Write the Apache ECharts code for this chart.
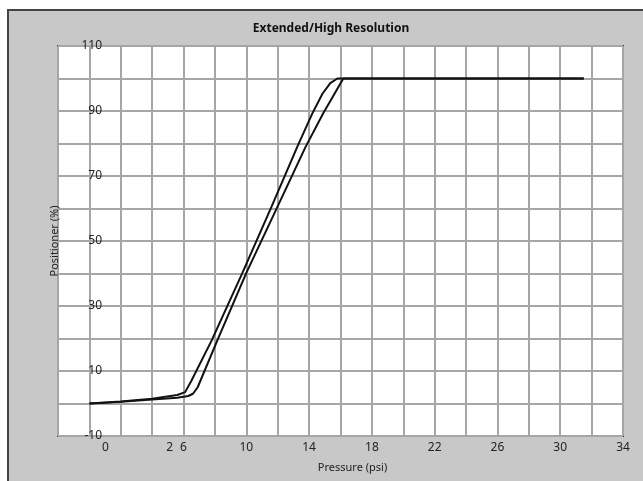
<!DOCTYPE html>
<html>
<head>
<meta charset="utf-8">
<script src="https://cdn.jsdelivr.net/npm/echarts@6/dist/echarts.min.js"></script>
<style>
html,body{margin:0;padding:0;background:#fff;}
#chart{width:643px;height:481px;}
</style>
</head>
<body>
<div id="chart"></div>
<script>
// Left branch of the hysteresis loop (pressure psi, position %)
const leftPressure = [0, 2, 4, 5.6, 6.1, 6.5, 7.8, 9.75, 11.6, 13.3, 14.2, 14.85, 15.35, 15.8, 31.5];
const leftPosition = [0, 0.6, 1.5, 2.6, 3.5, 7.0, 19.5, 40.2, 60.5, 79.6, 89.2, 95.3, 98.6, 100, 100];
// Right branch of the hysteresis loop
const rightPressure = [0, 2, 4, 5.6, 6.3, 6.6, 6.9, 8.16, 10.0, 11.98, 13.76, 14.9, 16.18, 31.5];
const rightPosition = [0, 0.5, 1.2, 1.8, 2.3, 3.0, 5.0, 19.5, 40.2, 60.5, 78.8, 89.3, 100, 100];
// Tick labels
const xTickLabels = {0: '0', 2: '2', 6: '6', 10: '10', 14: '14', 18: '18', 22: '22', 26: '26', 30: '30', 34: '34'};
const yTickLabels = [110, 90, 70, 50, 30, 10, -10];

const chart = echarts.init(document.getElementById('chart'), null, {renderer: 'canvas'});
const pair = (xs, ys) => xs.map((x, i) => [x, ys[i]]);

chart.setOption({
  animation: false,
  textStyle: {fontFamily: 'Noto Sans'},
  graphic: [{
    type: 'rect', z: -10, silent: true,
    shape: {x: 8, y: 10, width: 700, height: 600},
    style: {fill: '#c8c8c8', stroke: '#444', lineWidth: 2}
  }],
  title: {
    text: 'Extended/High Resolution',
    left: 331, top: 23, textAlign: 'center', padding: 0,
    textStyle: {fontFamily: 'Noto Sans', fontSize: 12, fontWeight: 'bold', color: '#111'}
  },
  grid: {
    left: 58, top: 46, right: 20, bottom: 45,
    show: true, backgroundColor: '#fff', borderColor: '#333', borderWidth: 2
  },
  xAxis: {
    type: 'value', min: -2, max: 34, interval: 2,
    name: 'Pressure (psi)', nameLocation: 'middle', nameGap: 26,
    nameTextStyle: {fontSize: 11, color: '#222', padding: [0, 0, 0, 24]},
    axisLine: {show: false}, axisTick: {show: false},
    splitLine: {show: true, lineStyle: {color: '#a6a6a6', width: 2}},
    axisLabel: {
      margin: 6, fontSize: 12, color: '#222',
      formatter: v => {
        const t = xTickLabels[v];
        if (t === undefined) return '';
        if (v === 0) return '{z|' + t + '}';
        if (v === 2) return '{t|' + t + '}';
        return t;
      },
      rich: {
        z: {fontSize: 12, color: '#222', padding: [0, 0, 0, 32]},
        t: {fontSize: 12, color: '#222', padding: [0, 0, 0, 98]}
      }
    }
  },
  yAxis: {
    type: 'value', min: -10, max: 110, interval: 10,
    name: 'Positioner (%)', nameLocation: 'middle', nameRotate: 90, nameGap: -2,
    nameTextStyle: {fontSize: 11, color: '#222'},
    axisLine: {show: false}, axisTick: {show: false},
    splitLine: {show: true, lineStyle: {color: '#a6a6a6', width: 2}},
    axisLabel: {
      margin: -44, fontSize: 12, color: '#222',
      formatter: v => (yTickLabels.indexOf(v) >= 0 ? String(v) : '')
    }
  },
  series: [
    {type: 'line', data: pair(leftPressure, leftPosition), showSymbol: false,
     lineStyle: {color: '#111', width: 2}, z: 5},
    {type: 'line', data: pair(rightPressure, rightPosition), showSymbol: false,
     lineStyle: {color: '#111', width: 2}, z: 5}
  ]
});
</script>
</body>
</html>
